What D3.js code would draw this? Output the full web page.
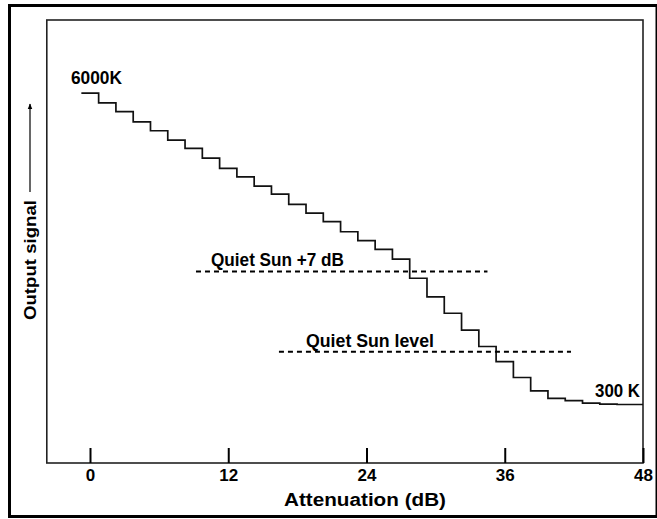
<!DOCTYPE html>
<html>
<head>
<meta charset="utf-8">
<script src="https://cdn.jsdelivr.net/npm/d3@7"></script>
<style>
  body { margin: 0; background: #fff; }
  text { font-family: "Liberation Sans", Arial, Helvetica, sans-serif; font-weight: bold; fill: #000; }
</style>
</head>
<body>
<svg id="chart" width="657" height="519"></svg>
<script>
// Attenuator step settings (dB) – centre of each plateau
const attenuation = [0, 1.5, 3, 4.5, 6, 7.5, 9, 10.5, 12, 13.5, 15, 16.5, 18, 19.5, 21, 22.5,
  24, 25.5, 27, 28.5, 30, 31.5, 33, 34.5, 36, 37.5, 39, 40.5, 42, 43.5, 45, 46.5, 48];

// Receiver output for each step (relative units, 0 = axis, 100 = top of frame)
const outputSignal = [83.5, 81.3, 79.3, 77.0, 75.0, 72.9, 71.0, 68.8, 66.5, 64.6, 62.5,
  60.7, 58.4, 56.4, 54.5, 52.2, 50.2, 48.2, 46.0, 41.7, 37.5, 33.8, 30.0, 26.3, 22.9,
  19.3, 16.3, 14.6, 14.1, 13.5, 13.3, 13.2, 13.2];

const xTicks = [0, 12, 24, 36, 48];

// Reference levels drawn as dashed lines
const refLabels = ["Quiet Sun +7 dB", "Quiet Sun level"];
const refValues = [43.2, 25.1];
const refFrom = [9.2, 16.4];
const refTo = [34.5, 41.75];

const endLabels = ["6000K", "300 K"];

const svg = d3.select("#chart");

const x = d3.scaleLinear().domain([0, 48]).range([90, 643]);
const y = d3.scaleLinear().domain([0, 100]).range([463, 20]);
const xMin = -3.75;

// wide bold lettering: stretch a label to a set width
function label(xPos, yPos, str, width, anchor) {
  return svg.append("text")
    .attr("x", xPos).attr("y", yPos)
    .attr("text-anchor", anchor || "start")
    .style("font-size", "17.5px")
    .attr("textLength", width).attr("lengthAdjust", "spacingAndGlyphs")
    .text(str);
}

// outer border
svg.append("rect")
  .attr("x", 9.5).attr("y", 5.5).attr("width", 647.5).attr("height", 511)
  .attr("fill", "none").attr("stroke", "#000").attr("stroke-width", 3);

// plot frame
svg.append("rect")
  .attr("x", x(xMin)).attr("y", y(100))
  .attr("width", x(48) - x(xMin)).attr("height", y(0) - y(100))
  .attr("fill", "none").attr("stroke", "#222").attr("stroke-width", 1.6);

// bottom axis with inward ticks
const axis = svg.append("g")
  .attr("transform", `translate(0,${y(0)})`)
  .call(d3.axisBottom(x).tickValues(xTicks).tickSize(-15).tickSizeOuter(0).tickPadding(6));
axis.select(".domain").remove();
axis.selectAll(".tick line").attr("stroke", "#000").attr("stroke-width", 2);
axis.selectAll(".tick text")
  .style("font-size", "17px").style("font-family", "Liberation Sans, Arial, sans-serif")
  .style("font-weight", "bold").attr("fill", "#000");

// x-axis title
label(365, 506, "Attenuation (dB)", 162, "middle");

// y-axis title with arrow
svg.append("text")
  .attr("transform", "translate(36,320) rotate(-90)")
  .attr("text-anchor", "start").style("font-size", "17px")
  .attr("textLength", 120).attr("lengthAdjust", "spacingAndGlyphs")
  .text("Output signal");

svg.append("defs").append("marker")
  .attr("id", "arrow").attr("viewBox", "0 0 10 10")
  .attr("refX", 9).attr("refY", 5)
  .attr("markerWidth", 5).attr("markerHeight", 6)
  .attr("orient", "auto")
  .append("path").attr("d", "M0,1 L10,5 L0,9 Z").attr("fill", "#000");

svg.append("line")
  .attr("x1", 30).attr("x2", 30)
  .attr("y1", 192).attr("y2", 104)
  .attr("stroke", "#000").attr("stroke-width", 1.2)
  .attr("marker-end", "url(#arrow)");

// staircase trace
const halfStep = (attenuation[1] - attenuation[0]) / 2;
const stairs = [{ a: attenuation[0] - halfStep, s: outputSignal[0] }]
  .concat(attenuation.map((a, i) => ({ a, s: outputSignal[i] })));

svg.append("path")
  .datum(stairs)
  .attr("fill", "none").attr("stroke", "#111").attr("stroke-width", 1.7)
  .attr("d", d3.line().x(d => x(d.a)).y(d => y(d.s)).curve(d3.curveStep));

// dashed reference levels
refValues.forEach((v, i) => {
  svg.append("line")
    .attr("x1", x(refFrom[i])).attr("x2", x(refTo[i]))
    .attr("y1", y(v)).attr("y2", y(v))
    .attr("stroke", "#000").attr("stroke-width", 2)
    .attr("stroke-dasharray", "5,4");
});

label(211, 266, refLabels[0], 133);
label(306, 346.5, refLabels[1], 128);

// end-point temperatures
label(71, 83.5, endLabels[0], 51);
label(640, 397, endLabels[1], 45, "end");
</script>
</body>
</html>
